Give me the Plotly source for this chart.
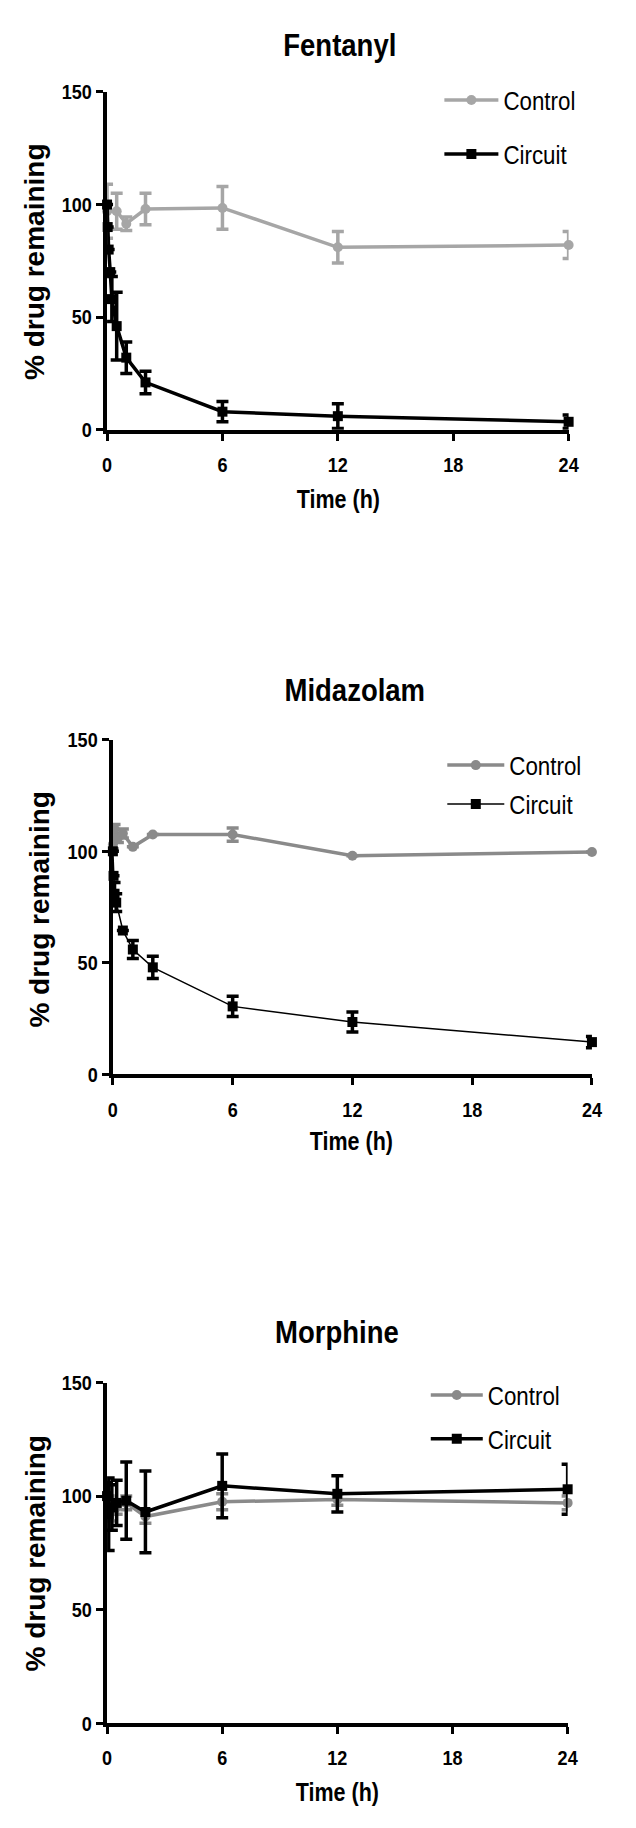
import plotly.graph_objects as go

W, H = 636, 1828

# ---------------- data ----------------
# Fentanyl
fen_ctrl_t = [0, 0.5, 1, 2, 6, 12, 24]
fen_ctrl_v = [97, 97, 91.5, 98, 98.5, 81, 82]
fen_ctrl_e = [12, 8, 3, 7, 9.5, 7, 6]
fen_circ_t = [0, 0.033, 0.083, 0.167, 0.25, 0.5, 1, 2, 6, 12, 24]
fen_circ_v = [100, 90, 80, 70, 58, 46, 32, 21, 8, 6, 3.5]
fen_circ_e = [0, 0, 0, 0, 10, 15, 7, 5, 4.5, 5.5, 3]

# Midazolam
mid_ctrl_t = [0, 0.083, 0.25, 0.5, 1, 2, 6, 12, 24]
mid_ctrl_v = [103, 110, 106, 108, 102, 107.5, 107.5, 98, 99.7]
mid_ctrl_e = [2, 2, 2, 2, 0, 0, 3, 0, 0]
mid_circ_t = [0, 0.033, 0.083, 0.167, 0.5, 1, 2, 6, 12, 24]
mid_circ_v = [100, 89, 81, 77, 64.5, 56, 48, 30.5, 23.5, 14.5]
mid_circ_e = [0, 0, 5, 4, 0, 4, 5, 4.5, 4.5, 2.5]

# Morphine
mor_ctrl_t = [0, 0.083, 0.25, 0.5, 1, 2, 6, 12, 24]
mor_ctrl_v = [100, 96, 93, 95, 97, 91, 97.5, 98.5, 97]
mor_ctrl_e = [5, 4, 4, 3, 3, 3, 3.5, 2.5, 3]
mor_circ_t = [0, 0.083, 0.25, 0.5, 1, 2, 6, 12, 24]
mor_circ_v = [100, 92, 95, 97, 98, 93, 104.5, 101, 103]
mor_circ_e = [6, 16, 10, 10, 17, 18, 14, 8, 11]

titles = ["Fentanyl", "Midazolam", "Morphine"]
x_ticks = [0, 6, 12, 18, 24]
y_ticks = [0, 50, 100, 150]
ctrl_colors = ["#a6a6a6", "#8a8a8a", "#8a8a8a"]
circ_widths = [3.5, 1.5, 3.5]

# ------------- layout geometry (pixels) -------------
panels = [
    dict(x0=104, x1=579, yt=81, yb=423, title=(344, 33), ylab=(30, 253), xlab=(342, 493),
         leg=(446, 84.5, 54, 17)),
    dict(x0=110, x1=603, yt=737, yb=1076, title=(359, 687), ylab=(35, 909), xlab=(356, 1143),
         leg=(449, 758, 57, 2)),
    dict(x0=104, x1=578, yt=1388, yb=1733, title=(341, 1337), ylab=(30, 1561), xlab=(341, 1803),
         leg=(432, 1396, 52, 7)),
]

data = [
    (fen_ctrl_t, fen_ctrl_v, fen_ctrl_e, fen_circ_t, fen_circ_v, fen_circ_e),
    (mid_ctrl_t, mid_ctrl_v, mid_ctrl_e, mid_circ_t, mid_circ_v, mid_circ_e),
    (mor_ctrl_t, mor_ctrl_v, mor_ctrl_e, mor_circ_t, mor_circ_v, mor_circ_e),
]

FONT = "Liberation Sans, Arial, Helvetica, sans-serif"
LEG_FS = 26

fig = go.Figure()
annotations = []
layout = {}

def px(x):
    return x / W

def py(y):
    return 1 - y / H

for i, (p, d) in enumerate(zip(panels, data)):
    n = "" if i == 0 else str(i + 1)
    xa, ya = "x" + n, "y" + n
    leg = "legend" + n
    ct, cv, ce, kt, kv, ke = d
    fig.add_trace(go.Scatter(
        x=ct, y=cv, mode="lines+markers", name="Control",
        xaxis=xa, yaxis=ya, legend=leg, legendgroup="c" + n,
        line=dict(color=ctrl_colors[i], width=3.5),
        marker=dict(symbol="circle", size=10, color=ctrl_colors[i]),
        error_y=dict(type="data", array=ce, visible=True, color=ctrl_colors[i], thickness=3.5, width=6),
        cliponaxis=False,
    ))
    fig.add_trace(go.Scatter(
        x=kt, y=kv, mode="lines+markers", name="Circuit",
        xaxis=xa, yaxis=ya, legend=leg, legendgroup="k" + n,
        line=dict(color="black", width=circ_widths[i]),
        marker=dict(symbol="square", size=10, color="black"),
        error_y=dict(type="data", array=ke, visible=True, color="black", thickness=3.5, width=6),
        cliponaxis=False,
    ))
    axcommon = dict(showline=True, linecolor="black", linewidth=4, ticks="outside",
                    ticklen=7, tickwidth=3, tickcolor="black", showgrid=False, zeroline=False,
                    tickfont=dict(family=FONT, size=21, color="black", weight="bold"))
    layout["xaxis" + n] = dict(domain=[px(p["x0"]), px(p["x1"])], anchor=ya, range=[0, 24],
                               tickvals=x_ticks, ticktext=[str(v) for v in x_ticks],
                               ticklabelstandoff=6, **axcommon)
    layout["yaxis" + n] = dict(domain=[py(p["yb"]), py(p["yt"])], anchor=xa, range=[0, 150],
                               tickvals=y_ticks, ticktext=[str(v) for v in y_ticks],
                               ticklabelstandoff=0, **axcommon)
    lx, ly, iw, gap = p["leg"]
    layout[leg] = dict(x=px(lx), y=py(ly - 19), xanchor="left", yanchor="top",
                       bgcolor="rgba(0,0,0,0)", tracegroupgap=gap, itemwidth=iw,
                       traceorder="grouped",
                       font=dict(family=FONT, size=LEG_FS, color="black"))
    annotations.append(dict(text="<b>%s</b>" % titles[i], x=px(p["title"][0]), y=py(p["title"][1]),
                            xref="paper", yref="paper", showarrow=False, xanchor="center", yanchor="middle",
                            font=dict(family=FONT, size=32, color="black")))
    annotations.append(dict(text="<b>% drug remaining</b>", x=px(p["ylab"][0]), y=py(p["ylab"][1]),
                            xref="paper", yref="paper", showarrow=False, textangle=-90,
                            xanchor="center", yanchor="middle",
                            font=dict(family=FONT, size=28, color="black")))
    annotations.append(dict(text="<b>Time (h)</b>", x=px(p["xlab"][0]), y=py(p["xlab"][1]),
                            xref="paper", yref="paper", showarrow=False, xanchor="center", yanchor="middle",
                            font=dict(family=FONT, size=25, color="black")))

fig.update_layout(width=W, height=H, margin=dict(l=0, r=0, t=0, b=0),
                  paper_bgcolor="white", plot_bgcolor="white", showlegend=True,
                  annotations=annotations, **layout)

# The reference's horizontal lettering is condensed: narrow each (non-rotated) text
# horizontally about its own anchor point, keeping it as real SVG text.
POST = r"""
document.body.style.margin='0';document.body.style.padding='0';
document.documentElement.style.margin='0';
var gd = document.getElementById('{plot_id}');
var S = 0.86;
var texts = gd.querySelectorAll('svg text');
for (var i = 0; i < texts.length; i++) {
  var t = texts[i];
  var rot = false, p = t;
  while (p && p !== gd && p.getAttribute) {
    var tr0 = p.getAttribute('transform');
    if (tr0) {
      var m = tr0.match(/rotate\(\s*([-0-9.eE]+)/);
      if (m && Math.abs(parseFloat(m[1])) > 0.01) { rot = true; break; }
    }
    p = p.parentNode;
  }
  if (rot) continue;
  var bb;
  try { bb = t.getBBox(); } catch (e) { continue; }
  if (!bb || bb.width === 0) continue;
  var a = t.getAttribute('text-anchor') || 'start';
  var cx = (a === 'middle') ? bb.x + bb.width / 2 : ((a === 'end') ? bb.x + bb.width : bb.x);
  var tr = t.getAttribute('transform') || '';
  t.setAttribute('transform', tr + ' translate(' + cx + ',0) scale(' + S + ',1) translate(' + (-cx) + ',0)');
}
"""

fig.write_html("out.html", config={"displayModeBar": False}, post_script=POST)
